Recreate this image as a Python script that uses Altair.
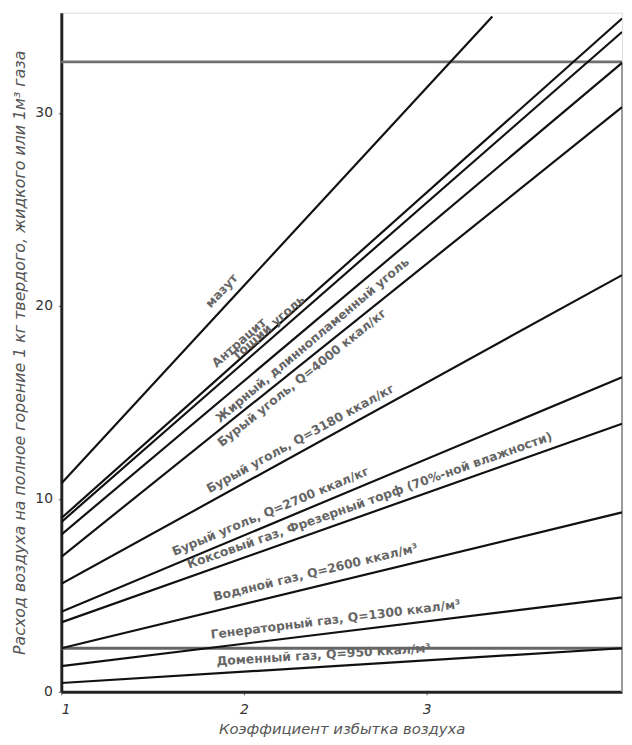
import math
import altair as alt
import pandas as pd

# ---- data ----
fuels = [
    "мазут",
    "Антрацит",
    "Тощий уголь",
    "Жирный, длиннопламенный уголь",
    "Бурый уголь, Q=4000 ккал/кг",
    "Бурый уголь, Q=3180 ккал/кг",
    "Бурый уголь, Q=2700 ккал/кг",
    "Коксовый газ, Фрезерный торф (70%-ной влажности)",
    "Водяной газ, Q=2600 ккал/м³",
    "Генераторный газ, Q=1300 ккал/м³",
    "Доменный газ, Q=950 ккал/м³",
]
alpha_start = [1.0] * 11
air_start = [10.8, 9.0, 8.8, 8.15, 7.0, 5.6, 4.15, 3.6, 2.26, 1.33, 0.46]
alpha_end = [3.36, 4.07, 4.07, 4.07, 4.07, 4.07, 4.07, 4.07, 4.07, 4.07, 4.07]
air_end = [35.0, 34.9, 34.2, 32.6, 30.3, 21.6, 16.3, 13.9, 9.3, 4.9, 2.26]

# where each label sits along its line, and its offset across the line (px)
label_alpha = [1.93, 2.02, 2.17, 2.33, 2.28, 2.34, 2.17, 2.71, 2.41, 2.51, 2.44]
label_off = [-13, -13, -10, 13, 11, -12, -12, -12, -14, -13, -12]

ref_air = [2.26]          # horizontal line near the bottom
frame_top = [32.65]       # top border of the frame

x_ticks = [1, 2, 3]
y_ticks = [0, 10, 20, 30]
X_DOM = [1, 4.07]
Y_DOM = [0, 35.2]

W, H = 568, 688
px_x = W / (X_DOM[1] - X_DOM[0])
px_y = H / (Y_DOM[1] - Y_DOM[0])

rows = []
for i, f in enumerate(fuels):
    rows.append({"fuel": f, "a": alpha_start[i], "v": air_start[i], "o": 0})
    rows.append({"fuel": f, "a": alpha_end[i], "v": air_end[i], "o": 1})
lines_df = pd.DataFrame(rows)

lab = []
for i, f in enumerate(fuels):
    s = (air_end[i] - air_start[i]) / (alpha_end[i] - alpha_start[i])
    v = air_start[i] + s * (label_alpha[i] - alpha_start[i])
    th = math.atan(s * px_y / px_x)
    off = label_off[i]
    a = label_alpha[i] + off * math.sin(th) / px_x
    v = v - off * math.cos(th) / px_y
    lab.append({"fuel": f, "a": a, "v": v, "ang": (360 - math.degrees(th)) % 360})
lab_df = pd.DataFrame(lab)

xs = alt.Scale(domain=X_DOM, nice=False, zero=False)
ys = alt.Scale(domain=Y_DOM, nice=False, zero=False)

x_axis = alt.Axis(values=x_ticks, format="d", title="Коэффициент избытка воздуха", grid=False,
                  domainWidth=3, domainColor="#222", tickColor="#555", tickSize=3,
                  labelFontSize=14, labelFontStyle="italic", labelColor="#333", labelPadding=8,
                  titleFontSize=15, titleFontStyle="italic", titleFontWeight="normal",
                  titleColor="#555", titlePadding=5)
y_axis = alt.Axis(values=y_ticks, title="Расход воздуха на полное горение 1 кг твердого, жидкого или 1м³ газа",
                  grid=False, domainWidth=3, domainColor="#222", tickColor="#555", tickSize=3,
                  labelFontSize=14, labelColor="#333", labelPadding=6,
                  titleFontSize=16, titleFontStyle="italic", titleFontWeight="normal",
                  titleColor="#555", titlePadding=7)

lines = alt.Chart(lines_df).mark_line(color="#111", strokeWidth=2.2, clip=True).encode(
    x=alt.X("a:Q", scale=xs, axis=x_axis),
    y=alt.Y("v:Q", scale=ys, axis=y_axis),
    detail="fuel:N",
    order="o:Q",
)

ref = alt.Chart(pd.DataFrame({"v": ref_air})).mark_rule(color="#666", strokeWidth=3).encode(
    y=alt.Y("v:Q", scale=ys), x=alt.value(0), x2=alt.value(W))

top = alt.Chart(pd.DataFrame({"v": frame_top})).mark_rule(color="#707070", strokeWidth=3).encode(
    y=alt.Y("v:Q", scale=ys), x=alt.value(0), x2=alt.value(W))

right = alt.Chart(pd.DataFrame({"v": frame_top})).mark_rule(color="#999", strokeWidth=2).encode(
    y=alt.Y("v:Q", scale=ys), y2=alt.value(H), x=alt.value(W))

labels = alt.Chart(lab_df).mark_text(fontSize=12.5, fontWeight="bold", color="#666",
                                     baseline="middle", font="DejaVu Sans").encode(
    x=alt.X("a:Q", scale=xs), y=alt.Y("v:Q", scale=ys),
    text="fuel:N", angle=alt.Angle("ang:Q", scale=None))

chart = alt.layer(top, right, ref, lines, labels).properties(
    width=W, height=H,
    autosize=alt.AutoSizeParams(type="none"),
    padding={"left": 54, "top": 0, "right": 2, "bottom": 41},
).configure_view(stroke=None).configure(font="DejaVu Sans")

chart.save("out.html", embed_options={"renderer": "svg", "actions": False})
